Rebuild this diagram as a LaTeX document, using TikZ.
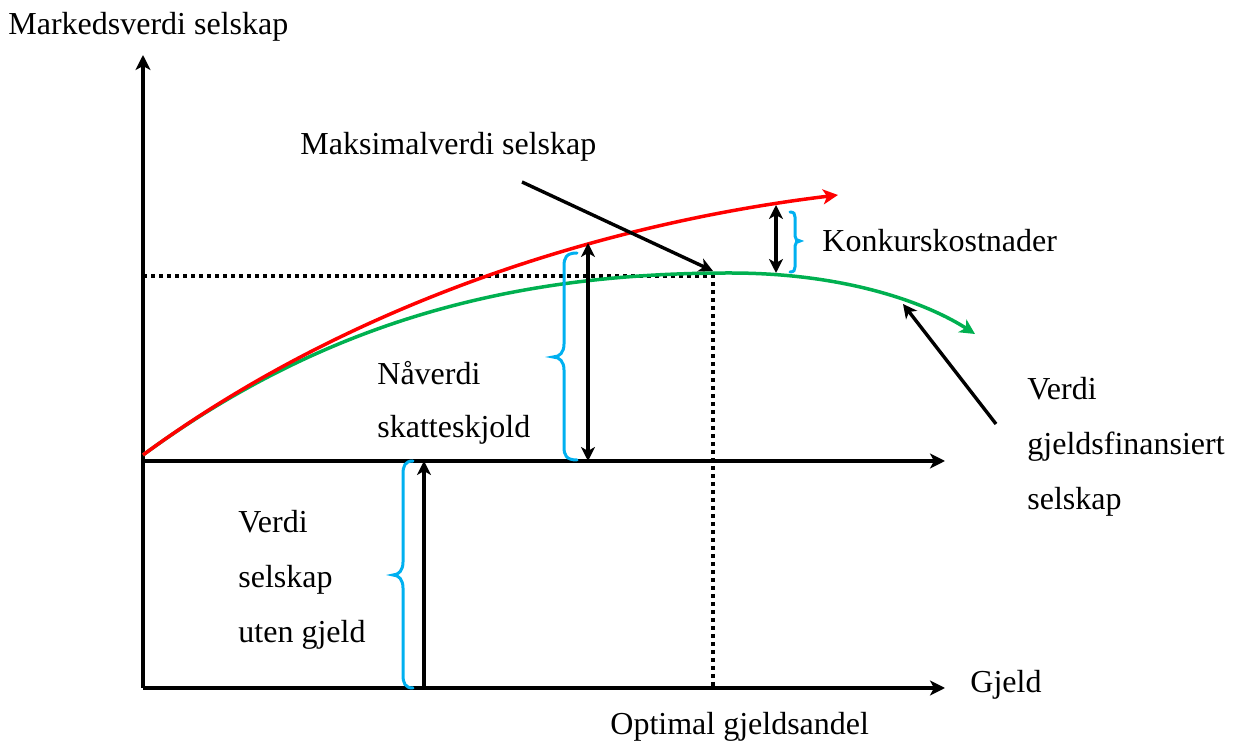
\documentclass[tikz,border=0pt]{standalone}
\usepackage{fontspec}
\setmainfont{Liberation Serif}
\usetikzlibrary{arrows.meta}
\definecolor{cred}{HTML}{FF0000}
\definecolor{cgreen}{HTML}{00B050}
\definecolor{cblue}{HTML}{00B0F0}
\begin{document}
\begin{tikzpicture}[x=0.5pt,y=-0.5pt,
  axis/.style={line width=2pt,-{Stealth[length=7.5pt,width=7.5pt,inset=2pt]}},
  ptr/.style={line width=1.7pt,-{Stealth[length=7pt,width=7pt,inset=2pt]}},
  dbl/.style={line width=1.7pt,{Stealth[length=7pt,width=7pt,inset=2pt]}-{Stealth[length=7pt,width=7pt,inset=2pt]}},
  curvearrow/.style={line width=1.75pt,-{Stealth[length=7.5pt,width=7.5pt,inset=2pt]}},
  brc/.style={cblue,line width=1.5pt,line cap=round},
  dots/.style={line width=2pt,dash pattern=on 2pt off 2pt},
  lbl/.style={anchor=base west,inner sep=0pt,font=\fontsize{16}{19}\selectfont}]
\useasboundingbox (0,0) rectangle (1238,747);
% coordinates
\coordinate (O) at (143,688);
\coordinate (Ytip) at (143,55);
\coordinate (Xtip) at (945,688);
\coordinate (M) at (143,461);
\coordinate (Mtip) at (945,461);
\coordinate (S) at (143,455);
\coordinate (Gmax) at (730,273);
\coordinate (Gend) at (975,334);
\coordinate (Rend) at (838,195);
\coordinate (D0) at (143,276);
\coordinate (D1) at (713,276);
\coordinate (D2) at (713,688);
\coordinate (A1s) at (522,182);
\coordinate (A1e) at (713,271);
\coordinate (A2s) at (996,424);
\coordinate (A2e) at (903,304);
\coordinate (N1) at (588,243);
\coordinate (N2) at (588,461);
\coordinate (U1) at (424,688);
\coordinate (U2) at (424,461);
\coordinate (K1) at (776,205);
\coordinate (K2) at (776,273);
% axes
\draw[axis] (O) -- (Ytip);
\draw[axis] (O) -- (Xtip);
\draw[axis] (M) -- (Mtip);
% dotted
\draw[dots] (D0) -- (D1) -- (D2);
% curves
\draw[cgreen,line width=1.75pt] (S) .. controls (330,318) and (520,273) .. (Gmax);
\draw[cgreen,curvearrow] (Gmax) .. controls (850,273) and (930,305) .. (Gend);
\draw[cred,curvearrow] (S) .. controls (340,310) and (590,225) .. (Rend);
% arrows
\draw[ptr] (A1s) -- (A1e);
\draw[ptr] (A2s) -- (A2e);
\draw[dbl] (N1) -- (N2);
\draw[ptr] (U1) -- (U2);
\draw[dbl] (K1) -- (K2);
% braces
\draw[brc] (577,253) .. controls (566,253) and (564,258) .. (564,266) -- (564,344) .. controls (564,352) and (560,357) .. (553,357) .. controls (560,357) and (564,362) .. (564,370) -- (564,447) .. controls (564,455) and (566,460) .. (577,460);
\draw[brc] (413,461) .. controls (405,461) and (403,466) .. (403,474) -- (403,562) .. controls (403,570) and (399,575) .. (393,575) .. controls (399,575) and (403,580) .. (403,588) -- (403,675) .. controls (403,683) and (405,688) .. (413,688);
\draw[brc] (790,212) .. controls (794,212) and (795,214) .. (795,217) -- (795,236) .. controls (795,239) and (797,241) .. (800,241) .. controls (797,241) and (795,243) .. (795,246) -- (795,267) .. controls (795,270) and (794,272) .. (790,272);
% labels
\node[lbl] (tY) at (8,35) {Markedsverdi selskap};
\node[lbl] (tMax) at (300,155) {Maksimalverdi selskap};
\node[lbl] (tK) at (822,252) {Konkurskostnader};
\node[lbl] (tN1) at (377,385) {Nåverdi};
\node[lbl] (tN2) at (377,438) {skatteskjold};
\node[lbl] (tU1) at (238,533) {Verdi};
\node[lbl] (tU2) at (238,588) {selskap};
\node[lbl] (tU3) at (238,643) {uten gjeld};
\node[lbl] (tV1) at (1027,400) {Verdi};
\node[lbl] (tV2) at (1027,455) {gjeldsfinansiert};
\node[lbl] (tV3) at (1027,510) {selskap};
\node[lbl] (tX) at (970,693) {Gjeld};
\node[lbl] (tO) at (610,735) {Optimal gjeldsandel};
\end{tikzpicture}
\end{document}
